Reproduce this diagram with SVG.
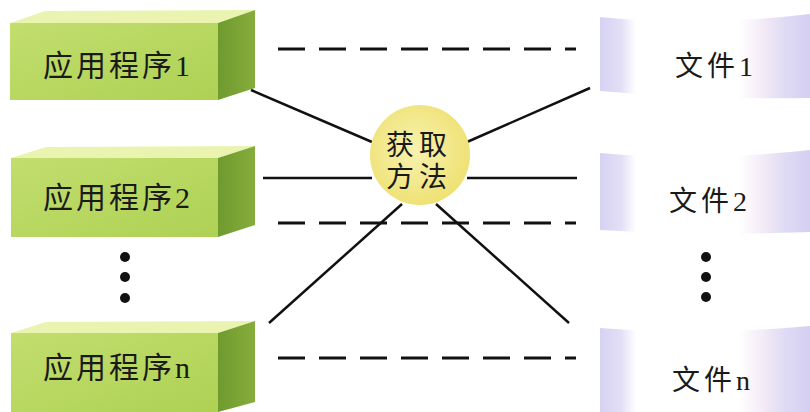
<svg xmlns="http://www.w3.org/2000/svg" width="810" height="412" viewBox="0 0 810 412">
<defs>
<linearGradient id="front" x1="0" y1="0" x2="1" y2="1">
<stop offset="0" stop-color="#c2de6e"/>
<stop offset="1" stop-color="#aed154"/>
</linearGradient>
<linearGradient id="side" x1="0" y1="0" x2="1" y2="0">
<stop offset="0" stop-color="#6f9a2e"/>
<stop offset="1" stop-color="#86ad3c"/>
</linearGradient>
<linearGradient id="file" x1="0" y1="0" x2="1" y2="0">
<stop offset="0" stop-color="#d6d2f2"/>
<stop offset="0.1" stop-color="#e2dff6"/>
<stop offset="0.17" stop-color="#ffffff"/>
<stop offset="0.66" stop-color="#ffffff"/>
<stop offset="0.78" stop-color="#f3eaf6"/>
<stop offset="0.88" stop-color="#e0dbf4"/>
<stop offset="1" stop-color="#d4cff1"/>
</linearGradient>
<radialGradient id="sun" cx="0.45" cy="0.45" r="0.6">
<stop offset="0" stop-color="#f8f2b0"/>
<stop offset="1" stop-color="#eee070"/>
</radialGradient>
</defs>
<style>
.front{fill:url(#front)}
.top{fill:#eaf4b0}
.side{fill:url(#side)}
.file{fill:url(#file)}
.lbl{font-family:"Liberation Serif","Noto Sans CJK SC",serif;font-size:30px;fill:#1a1a1a;letter-spacing:3px}
.flbl{font-family:"Liberation Serif","Noto Sans CJK SC",serif;font-size:28px;fill:#1a1a1a;letter-spacing:4px}
.line{stroke:#111;stroke-width:2.5;fill:none}
.dash{stroke:#111;stroke-width:3;fill:none;stroke-dasharray:27 14}
.dot{fill:#111}
</style>
<rect width="810" height="412" fill="#ffffff"/>

<g id="app1">
<polygon class="top" points="10,23 45,11 255,10 218,23"/>
<polygon class="side" points="218,23 255,10 255,88 218,100"/>
<rect class="front" x="10" y="23" width="208" height="77"/>
<text class="lbl" x="43" y="76">应用程序1</text>
</g>
<g id="app2">
<polygon class="top" points="11,158 46,147 255,146 218,158"/>
<polygon class="side" points="218,158 255,146 255,225 218,237"/>
<rect class="front" x="11" y="158" width="207" height="79"/>
<text class="lbl" x="43" y="208">应用程序2</text>
</g>
<g id="appn">
<polygon class="top" points="11,333 46,322 255,321 218,333"/>
<polygon class="side" points="218,333 255,321 255,402 218,412"/>
<rect class="front" x="11" y="333" width="207" height="79"/>
<text class="lbl" x="43" y="378">应用程序n</text>
</g>
<g id="app-dots">
<circle class="dot" cx="125" cy="257" r="5"/>
<circle class="dot" cx="125" cy="277" r="5"/>
<circle class="dot" cx="125" cy="298" r="5"/>
</g>

<g id="file1">
<path class="file" d="M600,17 Q700,27 810,14 L810,98 Q700,100 600,91 Z"/>
<text class="flbl" x="675" y="76">文件1</text>
</g>
<g id="file2">
<path class="file" d="M600,153 Q700,162 810,150 L810,232 Q700,236 600,230 Z"/>
<text class="flbl" x="669" y="211">文件2</text>
</g>
<g id="filen">
<path class="file" d="M600,328 Q700,336 810,326 L810,412 L600,412 Z"/>
<text class="flbl" x="672" y="390">文件n</text>
</g>
<g id="file-dots">
<circle class="dot" cx="706" cy="257" r="5"/>
<circle class="dot" cx="706" cy="277" r="5"/>
<circle class="dot" cx="706" cy="297" r="5"/>
</g>

<g id="connectors">
<line class="dash" x1="278" y1="49" x2="576" y2="49"/>
<line class="dash" x1="278" y1="223" x2="576" y2="223"/>
<line class="dash" x1="278" y1="358" x2="576" y2="358"/>
<line class="line" x1="251" y1="90" x2="372" y2="142"/>
<line class="line" x1="467" y1="142" x2="590" y2="88"/>
<line class="line" x1="263" y1="178" x2="372" y2="178"/>
<line class="line" x1="467" y1="178" x2="577" y2="178"/>
<line class="line" x1="402" y1="204" x2="269" y2="323"/>
<line class="line" x1="436" y1="204" x2="569" y2="323"/>
</g>

<g id="method">
<circle cx="420" cy="155" r="50" fill="url(#sun)"/>
<text class="flbl" x="386" y="155" style="letter-spacing:5px">获取</text>
<text class="flbl" x="386" y="187" style="letter-spacing:5px">方法</text>
</g>
</svg>
